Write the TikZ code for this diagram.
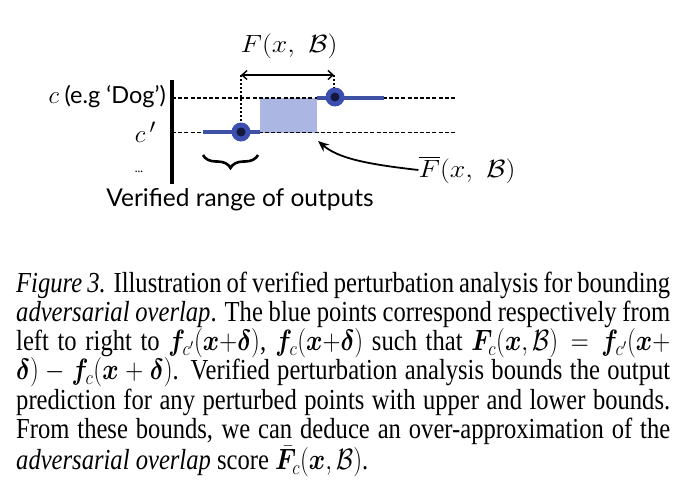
\documentclass[tikz,border=0pt]{standalone}
\usepackage{amsmath,bm}
\usepackage{fontspec}
\setmainfont{Liberation Serif}
\newfontfamily\diagfont{Lato}
\usetikzlibrary{arrows.meta,decorations.pathreplacing,calc}
\definecolor{segblue}{RGB}{63,81,165}
\definecolor{ringblue}{RGB}{60,78,175}
\definecolor{corenavy}{RGB}{20,24,60}
\definecolor{boxfill}{RGB}{172,182,226}
\tikzset{
  axisline/.style={line width=3.2pt,black},
  classline/.style={dashed,dash pattern=on 4pt off 2.2pt,black},
  blueseg/.style={line width=4pt,segblue},
  guide/.style={line width=2pt,dotted,black},
  outring/.style={circle,fill=ringblue,minimum size=19pt,inner sep=0pt},
  incore/.style={circle,fill=corenavy,minimum size=9pt,inner sep=0pt},
  lbl/.style={inner sep=0pt},
}
\begin{document}
\begin{tikzpicture}[x=1pt,y=-1pt]
\useasboundingbox (0,0) rectangle (685,487);
% coordinates
\coordinate (axT) at (172,80);
\coordinate (axB) at (172,184);
\coordinate (cL) at (172,98);
\coordinate (cR) at (455,98);
\coordinate (pL) at (172,132);
\coordinate (pR) at (455,132);
% overlap box
\fill[boxfill] (260,98) rectangle (317,133);
% class lines
\draw[classline,line width=1.5pt] (cL) -- (cR);
\draw[classline,line width=1pt] (pL) -- (pR);
% blue ranges
\coordinate (s1a) at (203,132);
\coordinate (s1b) at (260,132);
\coordinate (s2a) at (317,98);
\coordinate (s2b) at (384,98);
\draw[blueseg] (s1a) -- (s1b);
\draw[blueseg] (s2a) -- (s2b);
% axis
\draw[axisline] (axT) -- (axB);
% guides and arrow
\coordinate (gL) at (241,75);
\coordinate (gR) at (334,75);
\draw[guide] (gL) -- (241,124);
\draw[guide] (gR) -- (334,90);
\draw[line width=1.4pt,{Straight Barb[length=5pt,width=9pt]}-{Straight Barb[length=5pt,width=9pt]}] (gL) -- (gR);
% points
\node[outring] (ptL) at (241,132) {};
\node[incore] at (ptL) {};
\node[outring] (ptR) at (335,97) {};
\node[incore] at (ptR) {};
% labels
\node[lbl] (Ftop) at (289,46) {\scalebox{1.12}[1]{\fontsize{31}{36}\selectfont $F(x,\ \mathcal{B})$}};
\node[lbl,anchor=east] (clab) at (166,97) {\fontsize{33}{36}\selectfont $c$\,{\diagfont\fontsize{23.5}{26}\selectfont (e.g ‘Dog’)}};
\node[lbl,anchor=east] (cplab) at (156,132) {\fontsize{32}{36}\selectfont $c\,'$};
\node[lbl] (dots) at (139,172) {\diagfont\fontsize{12}{14}\selectfont ...};
\node[lbl] (vr) at (240,200) {\diagfont\fontsize{24.5}{28}\selectfont Verified range of outputs};
\node[lbl] (Fbar) at (467,170) {\scalebox{1.12}[1]{\fontsize{31}{36}\selectfont $\overline{F}(x,\ \mathcal{B})$}};
% brace
\coordinate (brR) at (258,155);
\coordinate (brL) at (203,155);
\draw[line width=2.6pt,decorate,decoration={brace,amplitude=13pt}] (brR) -- (brL);
% curved arrow
\draw[line width=1.8pt,-{Stealth[length=11pt,width=9pt]}] (Fbar.west) .. controls (365,164) and (338,158) .. (318,141);
% caption
\node[anchor=base west,inner sep=0pt] (cap) at (16,292) {\scalebox{1}[1.18]{\parbox[t]{654pt}{\fontsize{24.6}{24.85}\selectfont
\textit{Figure 3.} Illustration of verified perturbation analysis for bounding\linebreak
\textit{adversarial overlap}. The blue points correspond respectively from\linebreak
left to right to $\bm{f}_{c'}(\bm{x}{+}\bm{\delta})$, $\bm{f}_c(\bm{x}{+}\bm{\delta})$ such that $\bm{F}_c(\bm{x},\mathcal{B})=\bm{f}_{c'}(\bm{x}+$\linebreak
$\bm{\delta})-\bm{f}_c(\bm{x}+\bm{\delta})$. Verified perturbation analysis bounds the output\linebreak
prediction for any perturbed points with upper and lower bounds.\linebreak
From these bounds, we can deduce an over-approximation of the\linebreak
\textit{adversarial overlap} score $\bar{\bm{F}}_c(\bm{x},\mathcal{B})$.\par}}};
\end{tikzpicture}
\end{document}
